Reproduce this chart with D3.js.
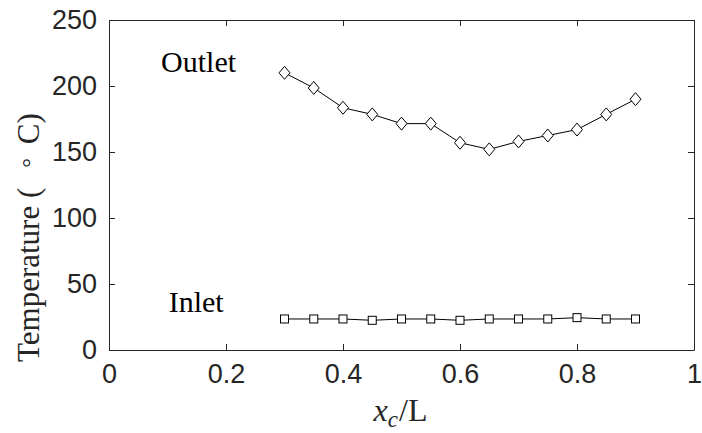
<!DOCTYPE html>
<html>
<head>
<meta charset="utf-8">
<script src="https://cdn.jsdelivr.net/npm/d3@7"></script>
<style>
  body { margin: 0; background: #fff; }
  svg { display: block; }
</style>
</head>
<body>
<svg width="702" height="433"></svg>
<script>
var positions = [0.3, 0.35, 0.4, 0.45, 0.5, 0.55, 0.6, 0.65, 0.7, 0.75, 0.8, 0.85, 0.9];
var outletTemp = [210, 198.5, 183.5, 178.5, 171.5, 171.5, 157, 152, 158, 162.5, 167, 178.5, 190];
var inletTemp = [23.5, 23.5, 23.5, 22.5, 23.5, 23.5, 22.5, 23.5, 23.5, 23.5, 24.5, 23.5, 23.5];
var xTicks = [0, 0.2, 0.4, 0.6, 0.8, 1];
var yTicks = [0, 50, 100, 150, 200, 250];

var margin = {left: 109, top: 20, right: 8, bottom: 83};
var svgWidth = 702, svgHeight = 433;
var width = svgWidth - margin.left - margin.right;
var height = svgHeight - margin.top - margin.bottom;
var axisColor = "#262626";

var svg = d3.select('svg');
var g = svg.append("g").attr("transform", "translate(" + margin.left + "," + margin.top + ")");

var xScale = d3.scaleLinear().domain([0, 1]).range([0, width]);
var yScale = d3.scaleLinear().domain([0, 250]).range([height, 0]);

// axes with inward ticks, mirrored on top and right
var x_axis = d3.axisBottom(xScale).tickValues(xTicks).tickSizeInner(-6).tickSizeOuter(0)
    .tickPadding(14).tickFormat(d3.format("~g"));
var y_axis = d3.axisLeft(yScale).tickValues(yTicks).tickSizeInner(-6).tickSizeOuter(0)
    .tickPadding(12);
var x_top = d3.axisTop(xScale).tickValues(xTicks).tickSizeInner(-6).tickSizeOuter(0).tickFormat("");
var y_right = d3.axisRight(yScale).tickValues(yTicks).tickSizeInner(-6).tickSizeOuter(0).tickFormat("");

g.append("g").attr("transform", "translate(0," + height + ")").call(x_axis);
g.append("g").call(y_axis);
g.append("g").call(x_top);
g.append("g").attr("transform", "translate(" + width + ",0)").call(y_right);

g.selectAll(".domain").attr("stroke", axisColor).attr("stroke-width", 1);
g.selectAll(".tick line").attr("stroke", axisColor).attr("stroke-width", 1);
g.selectAll(".tick text")
    .attr("fill", axisColor)
    .style("font-family", "'Liberation Sans', Arial, sans-serif")
    .style("font-size", "27px");

// lines
var line = d3.line()
    .x(function (d, i) { return xScale(positions[i]); })
    .y(function (d) { return yScale(d); });

g.append("path").datum(outletTemp).attr("d", line)
    .attr("fill", "none").attr("stroke", "#000").attr("stroke-width", 1);
g.append("path").datum(inletTemp).attr("d", line)
    .attr("fill", "none").attr("stroke", "#000").attr("stroke-width", 1);

// diamond markers
g.selectAll(".diamond").data(outletTemp).enter().append("path")
    .attr("class", "diamond")
    .attr("transform", function (d, i) {
        return "translate(" + xScale(positions[i]) + "," + yScale(d) + ")";
    })
    .attr("d", "M0,-6.5L5.5,0L0,6.5L-5.5,0Z")
    .attr("fill", "#fff").attr("stroke", "#000").attr("stroke-width", 1);

// square markers
g.selectAll(".square").data(inletTemp).enter().append("rect")
    .attr("class", "square")
    .attr("x", function (d, i) { return xScale(positions[i]) - 4; })
    .attr("y", function (d) { return yScale(d) - 4; })
    .attr("width", 8).attr("height", 8)
    .attr("fill", "#fff").attr("stroke", "#000").attr("stroke-width", 1);

// annotations
var serif = "'Liberation Serif', 'Times New Roman', serif";
g.append("text").attr("x", xScale(0.089)).attr("y", yScale(210.5))
    .style("font-family", serif).style("font-size", "30px").attr("fill", "#000")
    .text("Outlet");
g.append("text").attr("x", xScale(0.102)).attr("y", yScale(28.8))
    .style("font-family", serif).style("font-size", "30px").attr("fill", "#000")
    .text("Inlet");

// x label
var xl = svg.append("text")
    .attr("x", margin.left + width / 2 - 1).attr("y", 421)
    .attr("text-anchor", "middle")
    .style("font-family", serif).style("font-size", "32px").attr("fill", axisColor);
xl.append("tspan").style("font-style", "italic").text("x");
xl.append("tspan").style("font-style", "italic").style("font-size", "23px").attr("dy", 6).text("c");
xl.append("tspan").attr("dy", -6).attr("dx", 1).text("/L");

// y label, laid out from the bottom up
var yl = svg.append("text")
    .attr("transform", "translate(39,362) rotate(-90)")
    .attr("text-anchor", "start")
    .style("font-family", serif).style("font-size", "31px").attr("fill", axisColor);
yl.append("tspan").text("Temperature (");
yl.append("tspan").attr("dx", 20).style("font-size", "24px").text("\u00B0");
yl.append("tspan").attr("dx", 14).text("C)");
</script>
</body>
</html>
